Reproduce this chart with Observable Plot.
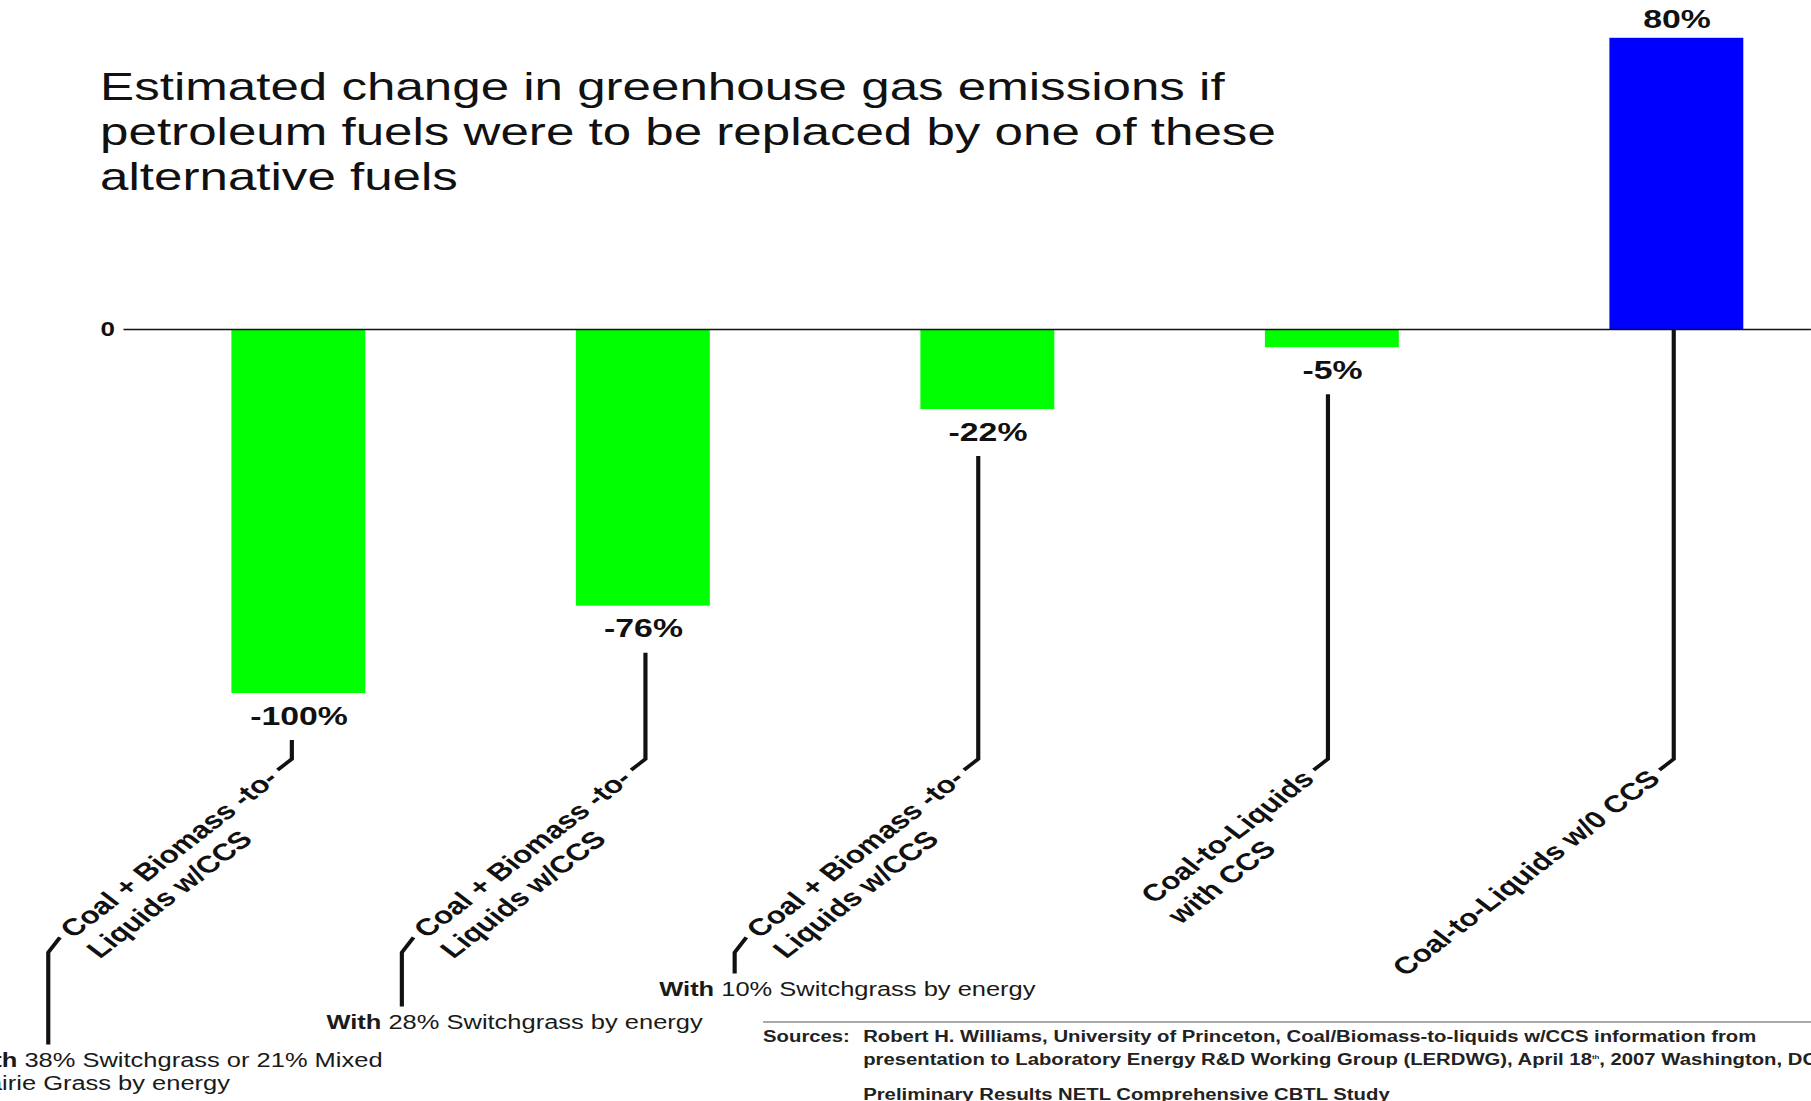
<!DOCTYPE html>
<html>
<head>
<meta charset="utf-8">
<script src="https://cdn.jsdelivr.net/npm/d3@7"></script>
<script src="https://cdn.jsdelivr.net/npm/@observablehq/plot@0.6"></script>
<style>
  html, body { margin: 0; padding: 0; background: #fff; width: 1811px; height: 1101px; overflow: hidden; }
  #stage { position: absolute; left: 0; top: 0; width: 1393px; height: 1101px;
           transform: scaleX(1.3); transform-origin: 0 0;
           font-family: "Liberation Sans", Arial, Helvetica, sans-serif; color: #111; }
  #chart { position: absolute; left: 0; top: 0; }
  #chart svg { overflow: visible; }
  #title { position: absolute; left: 77px; top: 64px; font-size: 39.3px; line-height: 45px;
           white-space: nowrap; color: #111; }
  #sources { position: absolute; left: 587px; top: 1021px; width: 820px;
             border-top: 2px solid #a8a8a8; padding-top: 4px;
             font-size: 15.6px; line-height: 20px; font-weight: bold; color: #222; white-space: nowrap; }
  #sources .row { display: flex; }
  #sources .k { width: 77px; flex: none; }
  #sources .gap { margin-top: 15px; }
  #chart g[aria-label="y-axis tick label"] text { font-weight: bold; font-size: 20px; }
</style>
</head>
<body>
<div id="stage">
  <div id="chart"></div>
  <div id="title">Estimated change in greenhouse gas emissions if<br>petroleum fuels were to be replaced by one of these<br>alternative fuels</div>
  <div id="sources">
    <div class="row"><span class="k">Sources:</span><span>Robert H. Williams, University of Princeton, Coal/Biomass-to-liquids w/CCS information from</span></div>
    <div class="row"><span class="k"></span><span>presentation to Laboratory Energy R&amp;D Working Group (LERDWG), April 18<sup style="font-size:6px">th</sup>, 2007 Washington, DC</span></div>
    <div class="row gap"><span class="k"></span><span>Preliminary Results NETL Comprehensive CBTL Study</span></div>
  </div>
</div>
<script>
// ---- data ----
const fuelKeys = ["CBTL 38% switchgrass", "CBTL 28% switchgrass", "CBTL 10% switchgrass", "CTL with CCS", "CTL without CCS"];
const fuelLabels = [
  ["Coal + Biomass -to-", "Liquids w/CCS"],
  ["Coal + Biomass -to-", "Liquids w/CCS"],
  ["Coal + Biomass -to-", "Liquids w/CCS"],
  ["Coal-to-Liquids", "with CCS"],
  ["Coal-to-Liquids w/0 CCS"]
];
const emissionChange = [-100, -76, -22, -5, 80];
const feedNotes = [
  ["38% Switchgrass or 21% Mixed", "Prairie Grass by energy"],
  ["28% Switchgrass by energy"],
  ["10% Switchgrass by energy"],
  null,
  null
];
const yTicks = [0];

// ---- layout (pixels) ----
const W = 1393, H = 1101;
const noteDrop = [92, 54, 21];            // length of the lower leader for each note
const noteShift = [-66, -58, -58];        // note start relative to its leader
const leaderShift = [-5, 2, -7, -3, -2];  // leader offset from the bar centre
const LABEL_FONT = 24, NOTE_FONT = 19.6, GAP = 6, BEND_Y = 759;

const rows = fuelKeys.map((k, i) => ({key: k, value: emissionChange[i]}));

const chart = Plot.plot({
  width: W, height: H,
  marginLeft: 95, marginRight: 0, marginTop: 0, marginBottom: 0,
  style: {fontFamily: '"Liberation Sans", Arial, sans-serif', fontSize: "20px", color: "#111", background: "transparent"},
  x: {type: "band", domain: fuelKeys, range: [124, 1395], paddingInner: 0.612, paddingOuter: 0.2, axis: null},
  y: {domain: [-100, 80], range: [693, 37.8], axis: null},
  marks: [
    Plot.barY(rows, {x: "key", y: "value", fill: d => d.value < 0 ? "#00ff00" : "#0000ff"}),
    Plot.ruleY([0], {stroke: "#111", strokeWidth: 1.6}),
    Plot.axisY({ticks: yTicks, tickSize: 0, tickPadding: 7, label: null, fontSize: 20, fontWeight: "bold"}),
    Plot.text(rows.filter(d => d.value < 0), {x: "key", y: "value", text: d => `${d.value}%`, dy: 23,
      fontSize: 26, fontWeight: "bold", fill: "#111"}),
    Plot.text(rows.filter(d => d.value >= 0), {x: "key", y: "value", text: d => `${d.value}%`, dy: -19,
      fontSize: 26, fontWeight: "bold", fill: "#111"})
  ]
});
document.getElementById("chart").append(chart);

// ---- leader lines and rotated labels, positioned with the plot's own scales ----
const xs = chart.scale("x"), ys = chart.scale("y");
const svg = d3.select(chart);
const g = svg.append("g").attr("class", "annotations")
  .attr("font-family", '"Liberation Sans", Arial, sans-serif').attr("fill", "#111")
  .attr("text-anchor", "start");
const ctx = document.createElement("canvas").getContext("2d");
ctx.font = `bold ${LABEL_FONT}px "Liberation Sans"`;
const D = Math.SQRT1_2;
const line = {stroke: "#111", "stroke-width": 3.2, fill: "none", "stroke-linejoin": "miter"};
const attrs = (sel, o) => { for (const k in o) sel.attr(k, o[k]); return sel; };

fuelKeys.forEach((k, i) => {
  const v = emissionChange[i];
  const cx = xs.apply(k) + xs.bandwidth / 2 + leaderShift[i];
  const yTop = v < 0 ? ys.apply(v) + 47 : ys.apply(0);
  const P = [cx - 11, BEND_Y + 11];
  attrs(g.append("path").attr("d", `M${cx},${yTop}V${BEND_Y}L${P[0]},${P[1]}`), line);

  const lines = fuelLabels[i];
  const w1 = ctx.measureText(lines[0]).width;
  const S = [P[0] - D * (GAP + w1), P[1] + D * (GAP + w1)];
  const t = g.append("text")
    .attr("transform", `translate(${S[0]},${S[1]}) rotate(-45)`)
    .attr("font-size", LABEL_FONT).attr("font-weight", "bold").attr("text-anchor", "start");
  lines.forEach((s, j) => t.append("tspan").attr("x", 0).attr("dy", j === 0 ? "0.35em" : "1.2em").text(s));

  const note = feedNotes[i];
  if (note) {
    const L0 = [S[0] - D * GAP, S[1] + D * GAP];
    const L1 = [L0[0] - 9, L0[1] + 15];
    const L2y = L1[1] + noteDrop[i];
    attrs(g.append("path").attr("d", `M${L0[0]},${L0[1]}L${L1[0]},${L1[1]}V${L2y}`), line);
    const nx = L1[0] + noteShift[i], ny = L2y + 16;
    const nt = g.append("text").attr("x", nx).attr("y", ny).attr("dy", "0.35em")
      .attr("font-size", NOTE_FONT).attr("fill", "#1a1a1a").attr("text-anchor", "start");
    nt.append("tspan").attr("font-weight", "bold").text("With");
    nt.append("tspan").text(" " + note[0]);
    note.slice(1).forEach(s => nt.append("tspan").attr("x", nx).attr("dy", "1.15em").text(s));
  }
});
</script>
</body>
</html>
